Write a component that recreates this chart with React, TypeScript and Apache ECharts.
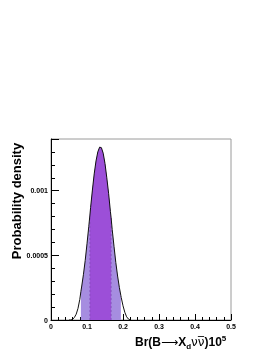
import React, { useEffect, useRef } from "react";
import * as echarts from "echarts";

const xValues = [0.05, 0.055, 0.06, 0.065, 0.07, 0.075, 0.08, 0.083, 0.085, 0.09, 0.095, 0.1, 0.105, 0.108, 0.11, 0.115, 0.12, 0.125, 0.13, 0.135, 0.14, 0.145, 0.15, 0.155, 0.16, 0.165, 0.167, 0.17, 0.175, 0.18, 0.185, 0.19, 0.194, 0.195, 0.2, 0.205, 0.21, 0.215, 0.22];
const density = [0, 0, 0.000005, 0.00002, 0.000045, 0.00009, 0.00016, 0.00022, 0.000255, 0.00035, 0.00046, 0.00059, 0.000725, 0.00081, 0.00087, 0.001005, 0.00113, 0.00123, 0.0013, 0.001337, 0.001333, 0.00129, 0.00121, 0.0011, 0.00098, 0.00084, 0.00079, 0.0007, 0.00057, 0.000445, 0.00034, 0.00025, 0.00019, 0.000175, 0.00011, 0.00006, 0.000025, 0.000008, 0];
const band95 = [0.083, 0.194];
const band68 = [0.108, 0.167];
const xTicks = [0, 0.1, 0.2, 0.3, 0.4, 0.5];
const yTickLabels = ["0", "0.0005", "0.001"];

export default function App() {
  const ref = useRef<HTMLDivElement>(null);
  useEffect(() => {
    if (!ref.current) return;
    const chart = echarts.init(ref.current, undefined, { renderer: "svg" });
    const pts = xValues.map((x, i) => [x, density[i]]);
    const inBand = (b: number[]) => pts.filter((p) => p[0] >= b[0] - 1e-9 && p[0] <= b[1] + 1e-9);
    const edge = (x: number) => {
      const i = xValues.findIndex((v) => Math.abs(v - x) < 1e-9);
      return [[x, 0], [x, density[i]]];
    };
    const font = "'Liberation Sans', Arial, Helvetica, sans-serif";
    chart.setOption({
      animation: false,
      grid: { left: 51, right: 45, top: 139, bottom: 37, show: true, borderColor: "#9a9a9a", borderWidth: 1, backgroundColor: "transparent" },
      xAxis: {
        type: "value", min: 0, max: 0.5, interval: 0.1,
        axisLine: { show: true, onZero: false, lineStyle: { color: "#000", width: 1 } },
        axisTick: { show: true, inside: true, length: 6, lineStyle: { color: "#000" } },
        minorTick: { show: true, splitNumber: 5, length: 3, lineStyle: { color: "#000" } },
        splitLine: { show: false },
        axisLabel: {
          fontSize: 7, fontWeight: "bold", color: "#000", fontFamily: font, margin: 3,
          formatter: (v: number) => { const i = xTicks.findIndex((t) => Math.abs(t - v) < 1e-9); return i >= 0 ? String(xTicks[i]) : ""; },
        },
      },
      yAxis: {
        type: "value", min: 0, max: 0.0014, interval: 0.0005,
        axisLine: { show: true, onZero: false, lineStyle: { color: "#000", width: 1 } },
        axisTick: { show: true, inside: true, length: 8, lineStyle: { color: "#000" } },
        minorTick: { show: true, splitNumber: 5, length: 4, lineStyle: { color: "#000" } },
        splitLine: { show: false },
        axisLabel: {
          fontSize: 7, fontWeight: "bold", color: "#000", fontFamily: font, margin: 3, showMaxLabel: false,
          formatter: (v: number) => { const i = Math.round(v / 0.0005); return yTickLabels[i] ?? ""; },
        },
      },
      series: [
        { type: "line", data: inBand(band95), symbol: "none", lineStyle: { width: 0 }, areaStyle: { color: "#a68de0", opacity: 1 }, silent: true, z: 1 },
        { type: "line", data: inBand(band68), symbol: "none", lineStyle: { width: 0 }, areaStyle: { color: "#9c4fd8", opacity: 1 }, silent: true, z: 2 },
        { type: "line", data: edge(band68[0]), symbol: "none", lineStyle: { width: 0.6, color: "#7a45b0", type: [2, 2] }, silent: true, z: 3 },
        { type: "line", data: edge(band68[1]), symbol: "none", lineStyle: { width: 0.6, color: "#7a45b0", type: [2, 2] }, silent: true, z: 3 },
        { type: "line", data: pts, symbol: "none", lineStyle: { width: 1, color: "#111" }, silent: true, z: 4 },
      ],
      graphic: [
        {
          type: "text", x: 16, y: 201, rotation: Math.PI / 2,
          style: { text: "Probability density", fontSize: 13, fontWeight: "bold", fontFamily: font, fill: "#000", align: "center", verticalAlign: "middle" },
        },
        {
          type: "text", x: 135, y: 342,
          style: {
            text: "{a|Br(B}{r|\u27F6}{a|X}{s|d}{n|\u03BD\u03BD\u0305}{a|)10}{p|5}",
            verticalAlign: "middle",
            rich: {
              a: { fontSize: 12, fontWeight: "bold", fontFamily: font, fill: "#000" },
              r: { fontSize: 12, fontFamily: "'DejaVu Sans', sans-serif", fill: "#000" },
              s: { fontSize: 8, fontWeight: "bold", fontFamily: font, fill: "#000", padding: [8, 0, 0, 0] },
              n: { fontSize: 12, fontFamily: "'DejaVu Sans', sans-serif", fill: "#000" },
              p: { fontSize: 8, fontWeight: "bold", fontFamily: font, fill: "#000", padding: [0, 0, 8, 0] },
            },
          },
        },
      ],
    });
    return () => chart.dispose();
  }, []);
  return <div ref={ref} style={{ width: 276, height: 357, position: "fixed", left: 0, top: 0 }} />;
}
